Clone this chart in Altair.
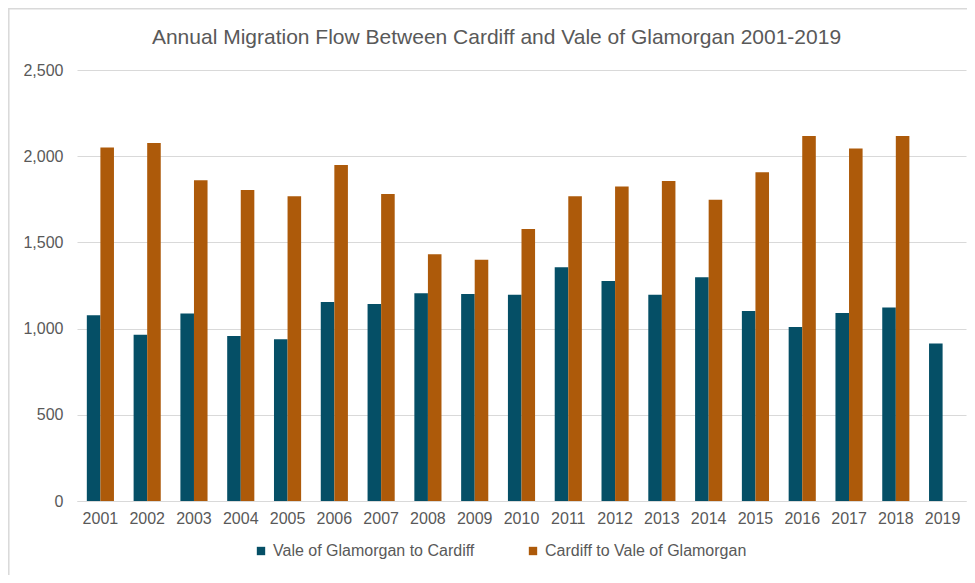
import altair as alt
import pandas as pd

years = [str(y) for y in range(2001, 2020)]
vale_to_cardiff = [1077, 965, 1087, 957, 938, 1154, 1143, 1205, 1201, 1197,
                   1356, 1276, 1197, 1298, 1102, 1009, 1091, 1122, 913]
cardiff_to_vale = [2050, 2077, 1860, 1804, 1767, 1949, 1781, 1431, 1400, 1578,
                   1767, 1824, 1856, 1748, 1907, 2117, 2044, 2117, None]
series_names = ["Vale of Glamorgan to Cardiff", "Cardiff to Vale of Glamorgan"]
colors = ["#054f66", "#ad5a0a"]
title_text = "Annual Migration Flow Between Cardiff and Vale of Glamorgan 2001-2019"

rows = []
for i, y in enumerate(years):
    rows.append({"Year": y, "Series": series_names[0], "Flow": vale_to_cardiff[i]})
    if cardiff_to_vale[i] is not None:
        rows.append({"Year": y, "Series": series_names[1], "Flow": cardiff_to_vale[i]})
df = pd.DataFrame(rows)

FONT = "Liberation Sans"
GREY = "#595959"

bars = alt.Chart(df).mark_bar().encode(
    x=alt.X("Year:N", sort=years,
            scale=alt.Scale(paddingInner=0.42, paddingOuter=0.21),
            axis=alt.Axis(title=None, labelAngle=0, ticks=False, domain=True,
                          domainColor="#d9d9d9", grid=False, labelPadding=9,
                          labelFontSize=16, labelColor=GREY, labelFont=FONT)),
    xOffset=alt.XOffset("Series:N", sort=series_names,
                        scale=alt.Scale(paddingInner=0, paddingOuter=0)),
    y=alt.Y("Flow:Q", scale=alt.Scale(domain=[0, 2500]),
            axis=alt.Axis(title=None, values=[0, 500, 1000, 1500, 2000, 2500],
                          format=",.0f", ticks=False, domain=False,
                          gridColor="#d9d9d9", gridWidth=1, labelPadding=14,
                          labelFontSize=16, labelColor=GREY, labelFont=FONT)),
    color=alt.Color("Series:N", sort=series_names,
                    scale=alt.Scale(domain=series_names, range=colors),
                    legend=alt.Legend(title=None, orient="none", direction="horizontal",
                                      legendX=176, legendY=473,
                                      symbolType="square", symbolSize=70,
                                      symbolStrokeWidth=0, symbolOpacity=1,
                                      labelFontSize=16, labelColor=GREY, labelFont=FONT,
                                      labelLimit=400, labelOffset=4, columnPadding=50)),
)

border = alt.Chart(pd.DataFrame({"a": [0]})).mark_rect(
    fillOpacity=0, stroke="#d9d9d9", strokeWidth=1.5
).encode(x=alt.value(-68.2), x2=alt.value(960), y=alt.value(-61.2), y2=alt.value(600))

title = alt.Chart(pd.DataFrame({"t": [title_text]})).mark_text(
    font=FONT, fontSize=21, color=GREY, align="center", baseline="middle"
).encode(text="t:N", x=alt.value(419.5), y=alt.value(-32))

chart = alt.layer(border, bars, title).properties(
    width=889, height=431,
    autosize=alt.AutoSizeParams(type="none"),
    padding={"left": 69, "top": 62, "right": 1, "bottom": 74},
).configure_view(stroke=None)

chart.save("out.html", embed_options={"renderer": "svg", "actions": False})
